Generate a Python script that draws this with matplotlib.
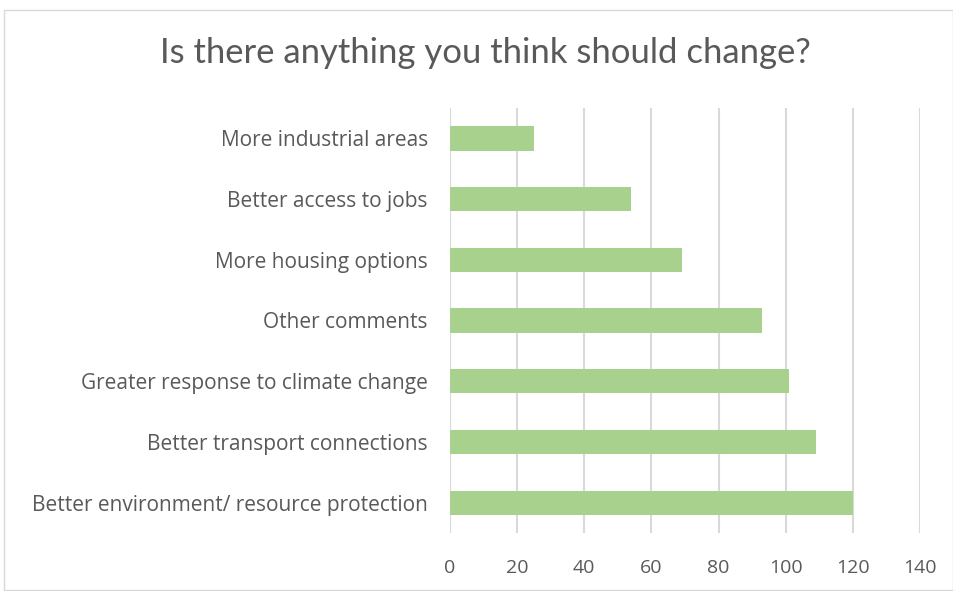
import matplotlib
matplotlib.use("Agg")
import matplotlib.pyplot as plt
from matplotlib.patches import Rectangle

categories = [
    "More industrial areas",
    "Better access to jobs",
    "More housing options",
    "Other comments",
    "Greater response to climate change",
    "Better transport connections",
    "Better environment/ resource protection",
]
values = [25, 54, 69, 93, 101, 109, 120]
xticks = [0, 20, 40, 60, 80, 100, 120, 140]
title = "Is there anything you think should change?"

plt.rcParams['font.family'] = ['Open Sans', 'DejaVu Sans']
W, H = 954, 591
fig = plt.figure(figsize=(W / 100, H / 100), dpi=100)
fig.patches.append(Rectangle((4 / W, 0.002), (W - 5) / W, (H - 11) / H,
                             transform=fig.transFigure, fill=False,
                             edgecolor="#d9d9d9", lw=1.0))

ax = fig.add_axes([450 / W, 58 / H, 470 / W, 425 / H])
y = list(range(len(categories)))
ax.barh(y, values, height=0.4, color="#a9d18e", zorder=3)
ax.set_ylim(len(categories) - 0.5, -0.5)
ax.set_xlim(0, 140)
ax.set_xticks(xticks)
ax.set_xticklabels([str(t) for t in xticks])
ax.set_yticks(y)
ax.set_yticklabels(categories)
ax.grid(axis="x", color="#d9d9d9", lw=1.5, zorder=0)
for s in ax.spines.values():
    s.set_visible(False)
ax.tick_params(axis="both", length=0, labelcolor="#595959")
ax.tick_params(axis="x", pad=19, labelsize=14)
ax.tick_params(axis="y", pad=16, labelsize=15)

fig.text(485 / W, 1 - 53 / H, title, ha="center", va="center",
         fontsize=24.9, color="#595959", family=["Lato", "DejaVu Sans"])

fig.savefig("out.png", dpi=100)
